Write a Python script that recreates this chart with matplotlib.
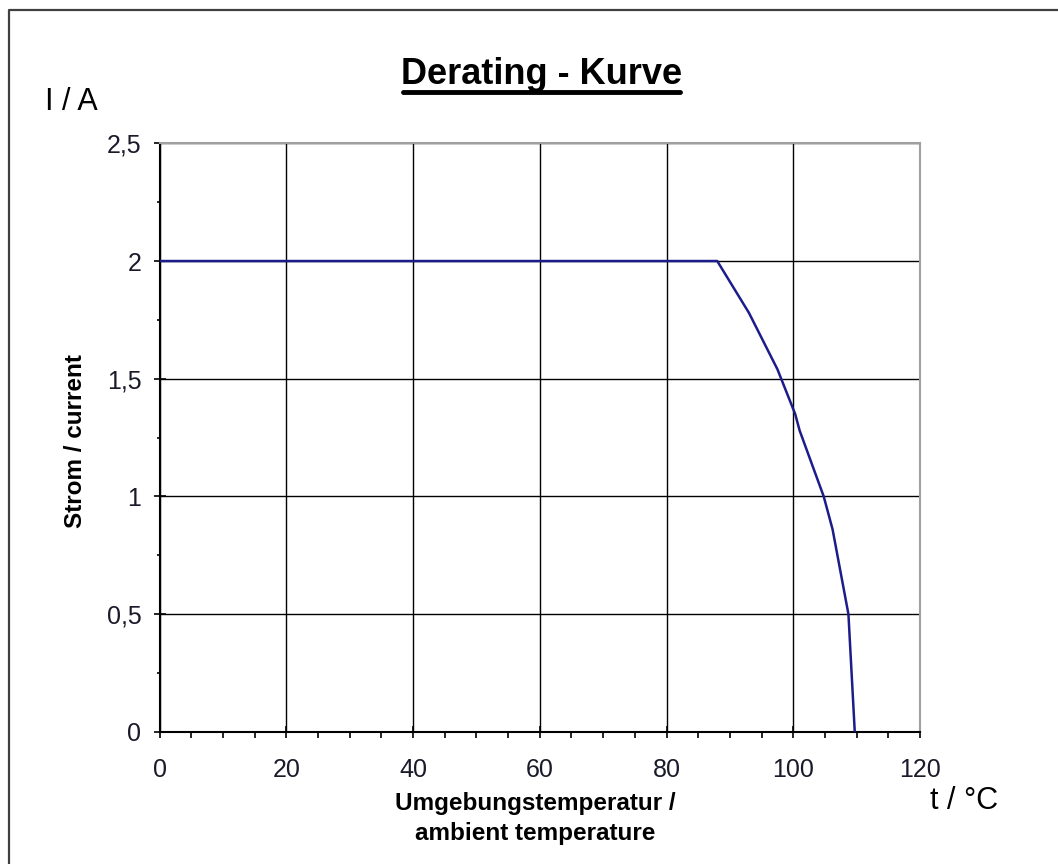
import matplotlib.pyplot as plt
from matplotlib.lines import Line2D
from matplotlib.ticker import MultipleLocator, FuncFormatter

plt.rcParams['font.family'] = ['Liberation Sans', 'DejaVu Sans']

# derating curve
temperature = [0, 88, 93, 97.5, 100.3, 101, 104.8, 106.2, 108.7, 109.7]
current = [2.0, 2.0, 1.78, 1.54, 1.35, 1.28, 1.0, 0.86, 0.5, 0.0]

x_ticks = [0, 20, 40, 60, 80, 100, 120]
y_ticks = [0, 0.5, 1, 1.5, 2, 2.5]

fig = plt.figure(figsize=(10.58, 8.64), dpi=100)
ax = fig.add_axes([0.1508, 0.153, 0.7188, 0.6811])

ax.plot(temperature, current, color='#1c1c8a', linewidth=1.8, zorder=3)

ax.set_xlim(0, 120)
ax.set_ylim(0, 2.5)
ax.set_xticks(x_ticks)
ax.set_yticks(y_ticks)
ax.xaxis.set_minor_locator(MultipleLocator(5))
ax.yaxis.set_minor_locator(MultipleLocator(0.25))
ax.yaxis.set_major_formatter(FuncFormatter(lambda v, p: ('%g' % v).replace('.', ',')))

ax.grid(True, which='major', color='black', linewidth=1.0)
ax.tick_params(axis='both', which='major', direction='inout', length=8, width=1.2,
               labelsize=18, colors='black', labelcolor='#1a1a2a')
ax.tick_params(axis='x', which='minor', direction='out', length=4, width=1.2)
ax.tick_params(axis='y', which='minor', direction='out', length=2, width=1.2)
ax.tick_params(axis='x', which='major', pad=15)
ax.tick_params(axis='y', which='major', pad=9)

for side in ['left', 'bottom']:
    ax.spines[side].set_color('black')
    ax.spines[side].set_linewidth(1.5)
for side in ['top', 'right']:
    ax.spines[side].set_color('#a0a0a0')
    ax.spines[side].set_linewidth(1.5)

# title with underline
fig.text(0.512, 0.903, 'Derating - Kurve', fontsize=26, fontweight='bold',
         ha='center', va='baseline')
fig.add_artist(Line2D([0.381, 0.643], [0.8935, 0.8935], color='black',
                      linewidth=3.5, solid_capstyle='round', transform=fig.transFigure))

fig.text(0.043, 0.882, 'I / A', fontsize=22, ha='left', va='center')
fig.text(0.879, 0.073, 't / \u00b0C', fontsize=22, ha='left', va='center')

fig.text(0.506, 0.053, 'Umgebungstemperatur /\nambient temperature', fontsize=17.5,
         fontweight='bold', ha='center', va='center', linespacing=1.4)
fig.text(0.071, 0.49, 'Strom / current', fontsize=17.5, fontweight='bold',
         rotation=90, ha='center', va='center')

# outer frame (only left and top edges visible)
fig.add_artist(Line2D([0.0085, 0.0085, 1.0], [0.0, 0.988, 0.988], color='#404040',
                      linewidth=1.6, transform=fig.transFigure))

fig.savefig('out.png', dpi=100, facecolor='white')
